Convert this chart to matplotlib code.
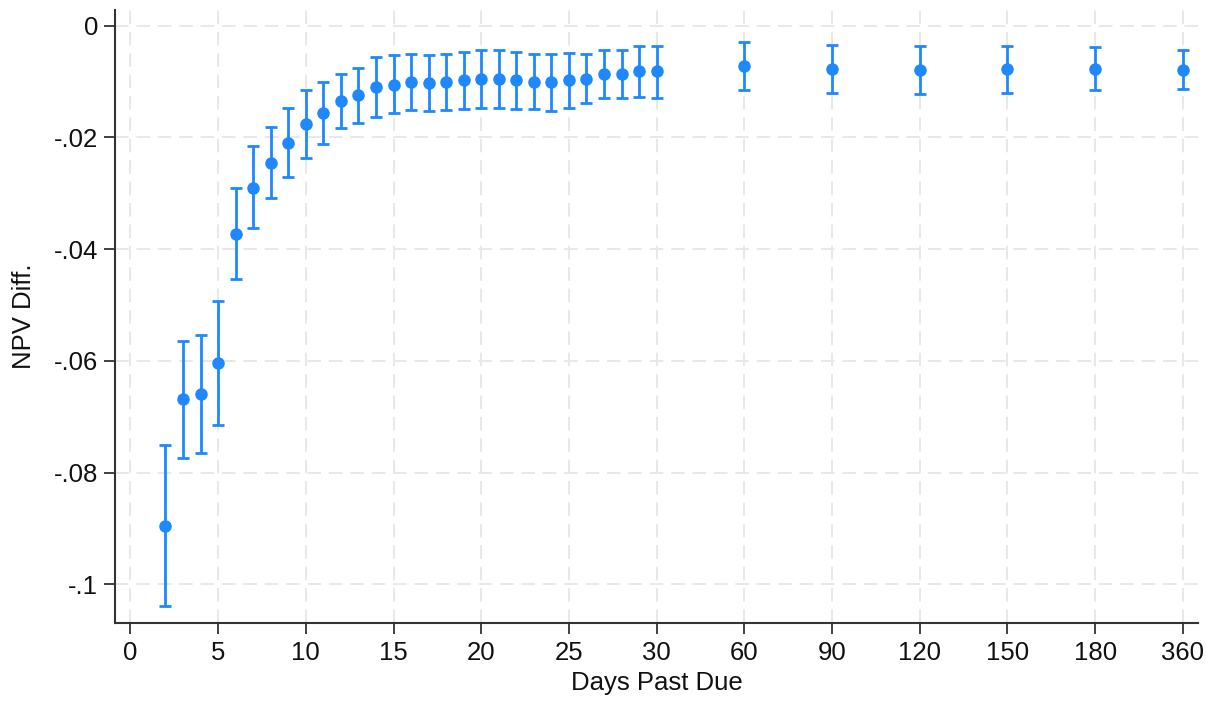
import matplotlib
matplotlib.use("Agg")
import matplotlib.pyplot as plt

plt.rcParams["font.family"] = ["Liberation Sans", "DejaVu Sans"]

# ── Data ───────────────────────────────────────────────────
days = [2, 3, 4, 5, 6, 7, 8, 9, 10, 11, 12, 13, 14, 15, 16, 17, 18, 19, 20,
        21, 22, 23, 24, 25, 26, 27, 28, 29, 30, 60, 90, 120, 150, 180, 360]
npv_diff = [-0.0895, -0.0669, -0.0659, -0.0603, -0.0372, -0.0290, -0.0245,
            -0.0210, -0.0176, -0.0156, -0.0135, -0.0125, -0.0110, -0.0106,
            -0.0101, -0.0102, -0.0100, -0.0098, -0.0096, -0.0095, -0.0098,
            -0.0100, -0.0101, -0.0098, -0.0095, -0.0087, -0.0086, -0.0081,
            -0.0082, -0.0073, -0.0077, -0.0080, -0.0078, -0.0077, -0.0079]
ci_low = [-0.1039, -0.0773, -0.0764, -0.0714, -0.0453, -0.0363, -0.0308,
          -0.0271, -0.0236, -0.0211, -0.0184, -0.0174, -0.0164, -0.0157,
          -0.0151, -0.0153, -0.0151, -0.0150, -0.0147, -0.0147, -0.0149,
          -0.0150, -0.0152, -0.0148, -0.0139, -0.0130, -0.0130, -0.0127,
          -0.0129, -0.0116, -0.0120, -0.0123, -0.0120, -0.0116, -0.0114]
ci_high = [-0.0750, -0.0565, -0.0553, -0.0492, -0.0290, -0.0216, -0.0182,
           -0.0147, -0.0115, -0.0100, -0.0087, -0.0075, -0.0057, -0.0053,
           -0.0050, -0.0052, -0.0050, -0.0047, -0.0044, -0.0043, -0.0048,
           -0.0050, -0.0050, -0.0049, -0.0050, -0.0043, -0.0043, -0.0036,
           -0.0036, -0.0030, -0.0034, -0.0037, -0.0036, -0.0038, -0.0043]

x_ticks = [0, 5, 10, 15, 20, 25, 30, 60, 90, 120, 150, 180, 360]
y_ticks = [0, -0.02, -0.04, -0.06, -0.08, -0.1]
y_tick_labels = ["0", "-.02", "-.04", "-.06", "-.08", "-.1"]

# days beyond 30 are drawn on an evenly spaced categorical scale
long_days = [d for d in x_ticks if d > 30]


def to_pos(d):
    if d <= 30:
        return d
    return 30 + 5 * (long_days.index(d) + 1)


xpos = [to_pos(d) for d in days]
err_lo = [e - lo for e, lo in zip(npv_diff, ci_low)]
err_hi = [hi - e for e, hi in zip(npv_diff, ci_high)]

BLUE = "#1E88FF"

# ── Plot ───────────────────────────────────────────────────
fig = plt.figure(figsize=(12.14, 7.02), dpi=100)
ax = fig.add_axes([0.0947, 0.1125, 0.8921, 0.8733])

ax.errorbar(xpos, npv_diff, yerr=[err_lo, err_hi], fmt="o", color=BLUE,
            ecolor=BLUE, markersize=8, elinewidth=2.0, capsize=4.5,
            capthick=2.0, zorder=3)

ax.set_xlim(-0.88, 60.86)
ax.set_ylim(-0.1069, 0.0028)
ax.set_xticks([to_pos(d) for d in x_ticks])
ax.set_xticklabels([str(d) for d in x_ticks])
ax.set_yticks(y_ticks)
ax.set_yticklabels(y_tick_labels)

ax.grid(True, color="#e8e8e8", linestyle=(0, (7, 4)), linewidth=1.4, zorder=0)
ax.set_axisbelow(True)

for side in ["top", "right"]:
    ax.spines[side].set_visible(False)
for side in ["left", "bottom"]:
    ax.spines[side].set_color("#333333")
    ax.spines[side].set_linewidth(1.5)

ax.tick_params(axis="both", direction="out", length=8, width=1.3,
               color="#333333", labelsize=18.5, labelcolor="#111111")
ax.tick_params(axis="y", pad=4)
ax.tick_params(axis="x", pad=5)

ax.set_xlabel("Days Past Due", fontsize=18.5, color="#111111", labelpad=4)
ax.set_ylabel("NPV Diff.", fontsize=18.5, color="#111111", labelpad=13)

fig.savefig("out.png", dpi=100)
